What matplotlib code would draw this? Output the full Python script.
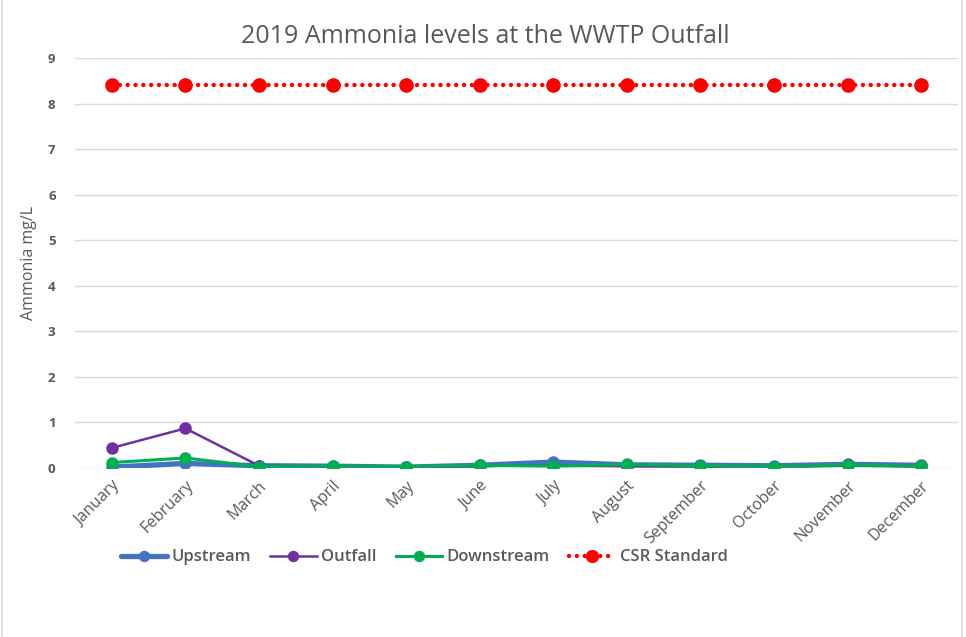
import matplotlib.pyplot as plt
from matplotlib.lines import Line2D

months = ["January", "February", "March", "April", "May", "June", "July",
          "August", "September", "October", "November", "December"]
upstream = [0.02, 0.10, 0.05, 0.04, 0.02, 0.06, 0.13, 0.07, 0.06, 0.05, 0.08, 0.06]
outfall = [0.44, 0.87, 0.05, 0.03, 0.02, 0.05, 0.05, 0.04, 0.04, 0.03, 0.06, 0.04]
downstream = [0.12, 0.22, 0.03, 0.04, 0.03, 0.06, 0.04, 0.08, 0.05, 0.03, 0.07, 0.04]
csr_standard = [8.4] * 12

plt.rcParams["font.family"] = ["Open Sans", "DejaVu Sans"]
text_color = "#595959"

fig = plt.figure(figsize=(9.66, 6.37), dpi=100)
ax = fig.add_axes([0.0776, 0.2653, 0.9141, 0.6436])

x = list(range(len(months)))
ax.plot(x, upstream, color="#4472C4", lw=3.8, marker="o", ms=8, label="Upstream",
        solid_capstyle="round", zorder=3)
ax.plot(x, outfall, color="#7030A0", lw=1.8, marker="o", ms=8, label="Outfall", zorder=4)
ax.plot(x, downstream, color="#00B050", lw=2.2, marker="o", ms=8, label="Downstream", zorder=5)
ax.plot(x, csr_standard, color="#FF0000", lw=3.2, ls=(0, (0.01, 1.75)),
        dash_capstyle="round", marker="o", ms=9.5, label="CSR Standard", zorder=6)

ax.set_xlim(-0.5, len(months) - 0.5)
ax.set_ylim(0, 9)
ax.set_yticks(range(0, 10))
ax.set_xticks(x)
ax.set_xticklabels(months, rotation=45, ha="right", rotation_mode="anchor",
                   fontsize=11.5, color=text_color)
ax.tick_params(axis="x", length=0, pad=7)
ax.tick_params(axis="y", length=0, pad=14, labelsize=9.5, labelcolor=text_color)
for lbl in ax.get_yticklabels():
    lbl.set_fontweight("bold")

ax.grid(axis="y", color="#D9D9D9", lw=1)
ax.set_axisbelow(True)
for side in ["top", "right", "left", "bottom"]:
    ax.spines[side].set_visible(False)

ax.set_ylabel("Ammonia mg/L", fontsize=11.5, color=text_color, labelpad=8)
fig.text(0.502, 0.942, "2019 Ammonia levels at the WWTP Outfall",
         ha="center", va="center", fontsize=18, color=text_color)

leg = fig.legend(loc="center", bbox_to_anchor=(0.439, 0.125), ncol=4, frameon=False,
                 fontsize=12, handlelength=2.8, columnspacing=1.15, handletextpad=0.25,
                 labelcolor=text_color, markerscale=0.9)
for t in leg.get_texts():
    t.set_fontweight("semibold")

# light chart border on the sides
fig.add_artist(Line2D([0.002, 0.002], [0, 1], color="#D9D9D9", lw=1.2))
fig.add_artist(Line2D([0.996, 0.996], [0, 1], color="#D9D9D9", lw=1.2))

fig.savefig("out.png", dpi=100)
